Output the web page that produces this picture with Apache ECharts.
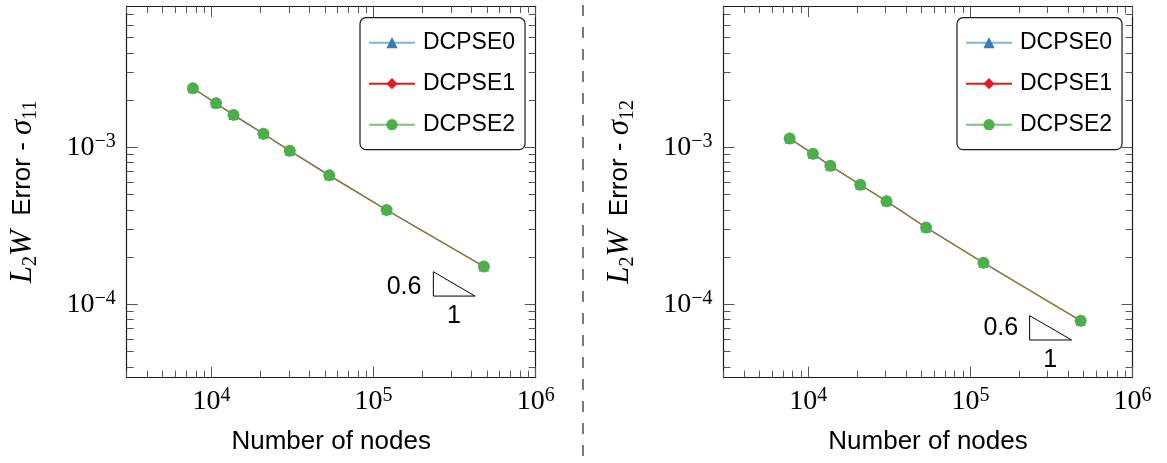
<!DOCTYPE html>
<html>
<head>
<meta charset="utf-8">
<script src="https://cdn.jsdelivr.net/npm/echarts@6/dist/echarts.min.js"></script>
<style>
  html, body { margin: 0; padding: 0; background: #fff; }
  #chart { width: 1167px; height: 463px; }
</style>
</head>
<body>
<div id="chart"></div>
<script>
// Number of nodes of each discretisation
const nodeCounts = [7680, 10680, 13680, 20920, 30400, 53300, 120400, 479000];

// L2W error of sigma_11 (left) and sigma_12 (right); the three DCPSE variants coincide
const errSigma11 = [2.38e-3, 1.91e-3, 1.61e-3, 1.22e-3, 9.53e-4, 6.63e-4, 3.99e-4, 1.74e-4];
const errSigma12 = [1.14e-3, 9.11e-4, 7.64e-4, 5.78e-4, 4.53e-4, 3.09e-4, 1.84e-4, 7.87e-5];

const seriesNames = ['DCPSE0', 'DCPSE1', 'DCPSE2'];
const panelSubscripts = ['11', '12'];

// Axis ranges and tick positions
const xRange = [3000, 1e6];
const yRange = [3.41e-5, 7.95e-3];
const xMajorTicks = [1e4, 1e5, 1e6];
const xMinorTicks = [3e3, 4e3, 5e3, 6e3, 7e3, 8e3, 9e3,
                     2e4, 3e4, 4e4, 5e4, 6e4, 7e4, 8e4, 9e4,
                     2e5, 3e5, 4e5, 5e5, 6e5, 7e5, 8e5, 9e5];
const yMajorTicks = [1e-4, 1e-3];
const yMinorTicks = [4e-5, 5e-5, 6e-5, 7e-5, 8e-5, 9e-5,
                     2e-4, 3e-4, 4e-4, 5e-4, 6e-4, 7e-4, 8e-4, 9e-4,
                     2e-3, 3e-3, 4e-3, 5e-3, 6e-3, 7e-3];

// Slope triangles (rate 0.6) in data coordinates, one per panel
const slopeTriangles = [
  [[233700, 1.129e-4], [422500, 1.129e-4], [233700, 1.613e-4], [233700, 1.129e-4]],
  [[232000, 5.93e-5], [421000, 5.93e-5], [232000, 8.47e-5], [232000, 5.93e-5]]
];
const slopeLabels = [
  [{ name: '0.6', value: [154200, 1.289e-4] }, { name: '1', value: [313500, 8.42e-5] }],
  [{ name: '0.6', value: [154000, 7.03e-5] }, { name: '1', value: [311000, 4.42e-5] }]
];

const panelLefts = [126.7, 723.5];
const legendLefts = [360, 957];

const SANS = 'Liberation Sans';
const SERIF = 'Liberation Serif';
const AXIS_COLOR = '#1a1a1a';
const TICK_COLOR = '#555';

const powRich = {
  b: { fontFamily: SERIF, fontSize: 28, color: '#000', lineHeight: 32 },
  s: { fontFamily: SERIF, fontSize: 20, color: '#000', verticalAlign: 'top', lineHeight: 20 }
};
function powLabel(v) {
  const e = Math.round(Math.log10(v));
  return '{b|10}{s|' + (e < 0 ? '\u2212' + (-e) : e) + '}';
}

const grids = [];
const xAxes = [];
const yAxes = [];
const series = [];
const legends = [];

panelLefts.forEach((left, p) => {
  const rect = { left: left, top: 6, width: 409, height: 371.7 };
  const gMain = grids.length;
  grids.push(Object.assign({}, rect));
  const gMinor = grids.length;
  grids.push(Object.assign({}, rect));

  const baseX = { type: 'log', logBase: 10, min: xRange[0], max: xRange[1], splitLine: { show: false } };
  const baseY = { type: 'log', logBase: 10, min: yRange[0], max: yRange[1], splitLine: { show: false } };
  const lineOn = { show: true, lineStyle: { color: AXIS_COLOR, width: 1.2 } };
  const majTick = (vals) => ({ show: true, inside: true, length: 11, customValues: vals, lineStyle: { color: TICK_COLOR, width: 1 } });
  const minTick = (vals) => ({ show: true, inside: true, length: 7, customValues: vals, lineStyle: { color: TICK_COLOR, width: 1 } });

  const xMainIndex = xAxes.length;
  xAxes.push(Object.assign({}, baseX, {
    gridIndex: gMain, position: 'bottom', axisLine: lineOn, axisTick: majTick(xMajorTicks),
    axisLabel: { customValues: xMajorTicks, formatter: powLabel, rich: powRich, margin: 8 },
    name: 'Number of nodes', nameLocation: 'middle', nameGap: 51,
    nameTextStyle: { fontFamily: SANS, fontSize: 26, color: '#000' }
  }));
  xAxes.push(Object.assign({}, baseX, {
    gridIndex: gMain, position: 'top', axisLine: lineOn, axisTick: majTick(xMajorTicks), axisLabel: { show: false }
  }));
  xAxes.push(Object.assign({}, baseX, {
    gridIndex: gMinor, position: 'bottom', axisLine: { show: false }, axisTick: minTick(xMinorTicks), axisLabel: { show: false }
  }));
  xAxes.push(Object.assign({}, baseX, {
    gridIndex: gMinor, position: 'top', axisLine: { show: false }, axisTick: minTick(xMinorTicks), axisLabel: { show: false }
  }));

  const yMainIndex = yAxes.length;
  yAxes.push(Object.assign({}, baseY, {
    gridIndex: gMain, position: 'left', axisLine: lineOn, axisTick: majTick(yMajorTicks),
    axisLabel: { customValues: yMajorTicks, formatter: powLabel, rich: powRich, margin: 11 },
    name: '{i|L}{sub|2}{i|W}{t|  Error - }{i|\u03c3}{sub|' + panelSubscripts[p] + '}',
    nameLocation: 'middle', nameGap: 86, nameRotate: 90,
    nameTextStyle: {
      rich: {
        i: { fontFamily: SERIF, fontStyle: 'italic', fontSize: 31, lineHeight: 36, color: '#000' },
        sub: { fontFamily: SERIF, fontSize: 20, lineHeight: 20, verticalAlign: 'bottom', color: '#000' },
        t: { fontFamily: SANS, fontSize: 26, lineHeight: 36, color: '#000' }
      }
    }
  }));
  yAxes.push(Object.assign({}, baseY, {
    gridIndex: gMain, position: 'right', axisLine: lineOn, axisTick: majTick(yMajorTicks), axisLabel: { show: false }
  }));
  yAxes.push(Object.assign({}, baseY, {
    gridIndex: gMinor, position: 'left', axisLine: { show: false }, axisTick: minTick(yMinorTicks), axisLabel: { show: false }
  }));
  yAxes.push(Object.assign({}, baseY, {
    gridIndex: gMinor, position: 'right', axisLine: { show: false }, axisTick: minTick(yMinorTicks), axisLabel: { show: false }
  }));

  const errs = p === 0 ? errSigma11 : errSigma12;
  const pts = nodeCounts.map((n, i) => [n, errs[i]]);

  series.push({
    name: seriesNames[0], type: 'line', xAxisIndex: xMainIndex, yAxisIndex: yMainIndex,
    data: pts, symbol: 'triangle', symbolSize: 10,
    itemStyle: { color: '#377eb8' }, lineStyle: { color: '#377eb8', width: 1.2, opacity: 0.6 }
  });
  series.push({
    name: seriesNames[1], type: 'line', xAxisIndex: xMainIndex, yAxisIndex: yMainIndex,
    data: pts, symbol: 'diamond', symbolSize: [9, 12],
    itemStyle: { color: '#e41a1c' }, lineStyle: { color: '#e41a1c', width: 1.2 }
  });
  series.push({
    name: seriesNames[2], type: 'line', xAxisIndex: xMainIndex, yAxisIndex: yMainIndex,
    data: pts, symbol: 'circle', symbolSize: 12,
    itemStyle: { color: '#4daf4a' }, lineStyle: { color: '#4daf4a', width: 1.2, opacity: 0.75 }
  });

  // slope indicator
  series.push({
    type: 'line', xAxisIndex: xMainIndex, yAxisIndex: yMainIndex, silent: true,
    data: slopeTriangles[p], symbol: 'none', lineStyle: { color: '#000', width: 1 }, z: 5
  });
  series.push({
    type: 'scatter', xAxisIndex: xMainIndex, yAxisIndex: yMainIndex, silent: true,
    data: slopeLabels[p], symbolSize: 0, itemStyle: { color: '#000' },
    label: {
      show: true, position: 'inside', formatter: '{b}', fontFamily: SANS, fontSize: 25,
      color: '#000', textBorderWidth: 0, opacity: 1
    }
  });

  legends.push({
    data: seriesNames, orient: 'vertical', left: legendLefts[p], top: 17.7,
    backgroundColor: '#fff', borderColor: '#1a1a1a', borderWidth: 1.2, borderRadius: 6,
    padding: [13.5, 10, 13.5, 8], itemGap: 18, itemWidth: 46, itemHeight: 14,
    selectedMode: false,
    textStyle: { fontFamily: SANS, fontSize: 23, color: '#000', padding: [0, 0, 0, 3] }
  });
});

const chart = echarts.init(document.getElementById('chart'), null, { renderer: 'canvas' });
chart.setOption({
  animation: false,
  backgroundColor: '#fff',
  grid: grids,
  xAxis: xAxes,
  yAxis: yAxes,
  legend: legends,
  series: series,
  graphic: [{
    type: 'line', silent: true,
    shape: { x1: 583, y1: 5, x2: 583, y2: 463 },
    style: { stroke: '#222', lineWidth: 1.2, lineDash: [11, 11] }
  }]
});
</script>
</body>
</html>
